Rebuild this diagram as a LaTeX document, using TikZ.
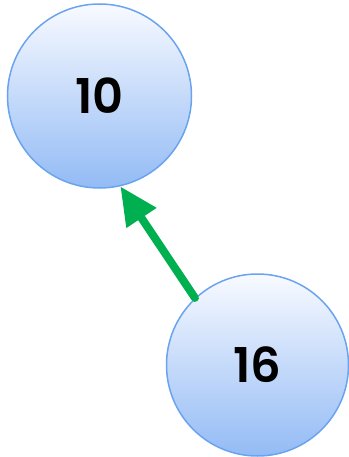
\documentclass[tikz,border=0pt]{standalone}
\usepackage{fontspec}
\setmainfont{Poppins}[BoldFont={Poppins SemiBold}]
\usetikzlibrary{arrows.meta, positioning}
\definecolor{nodeline}{HTML}{6AA3EE}
\definecolor{nodetop}{HTML}{F8FAFF}
\definecolor{nodebottom}{HTML}{93BBF5}
\definecolor{linkgreen}{HTML}{00B050}
\tikzstyle{keynode} = [draw=nodeline, line width=1.5pt, circle, minimum size=184pt, inner sep=0pt, top color=nodetop, bottom color=nodebottom, font=\fontsize{48}{48}\selectfont\bfseries]
\tikzstyle{link} = [draw=linkgreen, line width=8pt, line cap=round, -{Triangle[length=38pt, width=34pt]}]

\begin{document}
\begin{tikzpicture}[x=1pt, y=1pt]
    \useasboundingbox (0,0) rectangle (348,-457);
    \node [keynode] (n10) at (99.5,-96) {10};
    \node [keynode, minimum size=182pt] (n16) at (257.5,-365) {16};
    \draw [link] (n16.133.9) -- (n10.-77.7);
\end{tikzpicture}
\end{document}
